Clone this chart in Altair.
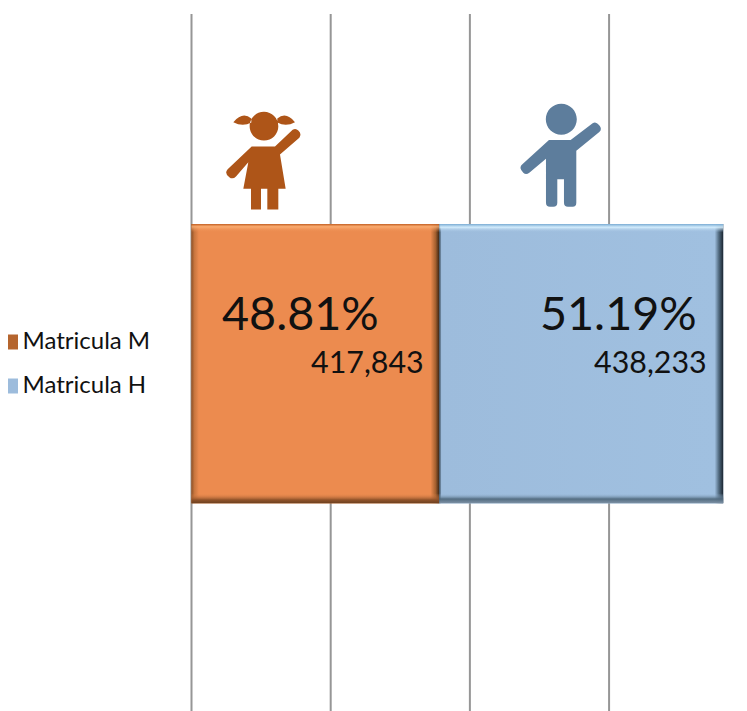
import re
import altair as alt
import pandas as pd

series = ["Matricula M", "Matricula H"]
bar_lengths = [44.5, 51.0]
shares = ["48.81%", "51.19%"]
counts = ["417,843", "438,233"]
grid_ticks = [0, 25, 50, 75]
legend_colors = ["#b5652e", "#9dbcdc"]
share_dx = [-60.5, -26.5]
count_dx = [-15.5, -16.5]
icon_pos = [12.9, 66.3]
icon_colors = ["#ae5518", "#5d7d9c"]

def circle(cx, cy, r):
    k = r * 0.5523
    return (f"M{cx-r} {cy}C{cx-r} {cy-k} {cx-k} {cy-r} {cx} {cy-r}C{cx+k} {cy-r} {cx+r} {cy-k} {cx+r} {cy}"
            f"C{cx+r} {cy+k} {cx+k} {cy+r} {cx} {cy+r}C{cx-k} {cy+r} {cx-r} {cy+k} {cx-r} {cy}Z")

def to_unit(path, cx, cy):
    nums = iter(range(10**6))
    def rep(m):
        i = next(nums)
        v = float(m.group(0))
        return f"{(v - (cx if i % 2 == 0 else cy)) / 150:.4f}"
    return re.sub(r"-?\d+\.?\d*", rep, path)

girl_raw = (circle(252, 107, 43)
    + "M215 168L285 168L338 118Q347 112 355 120Q366 130 358 142L300 192L317 295L295 295L295 357L262 357L262 295L243 295L243 357L213 357L213 295L190 295L205 215L168 258Q158 268 148 260Q132 248 143 236Z"
    + "M214 84Q188 62 160 95Q188 110 214 96Z M292 84Q318 62 345 95Q318 110 292 96Z")
boy_raw = (circle(1142, 88, 46.5)
    + "M1105 150L1170 150L1236 100Q1244 94 1252 102Q1268 116 1256 126L1187 182L1187 338Q1187 350 1176 350L1162 350Q1150 350 1150 338L1150 268L1130 268L1130 338Q1130 350 1118 350L1108 350Q1096 350 1096 338L1096 206L1046 248Q1036 256 1028 248Q1012 232 1026 222Z")
icon_paths = [to_unit(girl_raw, 250, 210), to_unit(boy_raw, 1140, 198)]
icon_y = [146.5, 142]

start, rows = 0.0, []
for s, v, p, c in zip(series, bar_lengths, shares, counts):
    rows.append(dict(series=s, start=start, end=start + v, share=p, count=c, band="a"))
    start += v
df = pd.DataFrame(rows)

x_scale = alt.Scale(domain=[0, 96], range=[0, 534.5], nice=False, zero=False)
y_scale = alt.Scale(paddingInner=0.428, paddingOuter=0.428, align=0.5025)
X = alt.X("start:Q", scale=x_scale, axis=None)
X2 = alt.X2("end:Q")
Y = alt.Y("band:N", scale=y_scale, axis=None)

def grad(stops, x2=1, y2=0):
    return alt.Gradient(gradient="linear", x1=0, y1=0, x2=x2, y2=y2,
                        stops=[alt.GradientStop(offset=o, color=c) for o, c in stops])

grid = alt.Chart(pd.DataFrame({"t": grid_ticks})).mark_rule(color="#969696", strokeWidth=2).encode(
    x=alt.X("t:Q", scale=x_scale, axis=None))

base = alt.Chart(df).mark_bar().encode(
    x=X, x2=X2, y=Y,
    color=alt.Color("series:N", sort=series,
                    scale=alt.Scale(domain=series, range=legend_colors),
                    legend=alt.Legend(title=None, orient="none", legendX=-193, legendY=316,
                                      symbolType="square", symbolSize=225, symbolStrokeWidth=0,
                                      labelFont="Lato", labelFontSize=24, labelColor="#111111",
                                      labelLimit=200, rowPadding=20, labelOffset=0)))

def bar_layer(name, h_stops, v_stops):
    d = df[df.series == name]
    h = alt.Chart(d).mark_bar(color=grad(h_stops)).encode(x=X, x2=X2, y=Y)
    v = alt.Chart(d).mark_bar(color=grad(v_stops, x2=0, y2=1)).encode(x=X, x2=X2, y=Y)
    return h + v

orange = bar_layer("Matricula M",
    [(0, "#8f5227"), (0.012, "#c8763f"), (0.03, "#ec8b4f"), (0.965, "#ec8b4f"), (0.985, "#a4602f"), (1, "#3a2412")],
    [(0, "rgba(190,90,30,0.95)"), (0.01, "rgba(255,180,120,0.8)"), (0.03, "rgba(236,139,79,0)"),
     (0.965, "rgba(236,139,79,0)"), (0.988, "rgba(140,80,40,0.95)"), (1, "rgba(110,65,32,1)")])
blue = bar_layer("Matricula H",
    [(0, "#2a3b48"), (0.008, "#9dbcdc"), (0.97, "#a0c0e0"), (0.985, "#4f687d"), (1, "#1a2530")],
    [(0, "rgba(120,170,210,1)"), (0.012, "rgba(215,240,255,0.9)"), (0.03, "rgba(160,192,224,0)"),
     (0.965, "rgba(160,192,224,0)"), (0.985, "rgba(80,105,125,0.95)"), (1, "rgba(125,145,165,1)")])

layers = [grid, base, orange, blue]
for i, s in enumerate(series):
    d = df[df.series == s]
    layers.append(alt.Chart(d).mark_text(font="Lato", fontSize=46.7, align="right", baseline="middle",
                                         color="#111111", dx=share_dx[i], dy=-48).encode(
        x=alt.X("end:Q", scale=x_scale, axis=None), y=Y, text="share:N"))
    layers.append(alt.Chart(d).mark_text(font="Lato", fontSize=30.4, align="right", baseline="middle",
                                         color="#111111", dx=count_dx[i], dy=0).encode(
        x=alt.X("end:Q", scale=x_scale, axis=None), y=Y, text="count:N"))
    layers.append(alt.Chart(pd.DataFrame({"pos": [icon_pos[i]]})).mark_point(
        shape=icon_paths[i], size=10000, filled=True, opacity=1, color=icon_colors[i], strokeWidth=0).encode(
        x=alt.X("pos:Q", scale=x_scale, axis=None), y=alt.value(icon_y[i])))

chart = alt.layer(*layers).properties(
    width=534.5, height=697, background="white",
    padding={"left": 183.5, "top": 6, "right": 0, "bottom": 0},
    autosize=alt.AutoSizeParams(type="none"),
).configure_view(stroke=None)

chart.save("out.html", embed_options={"renderer": "svg", "actions": False})
